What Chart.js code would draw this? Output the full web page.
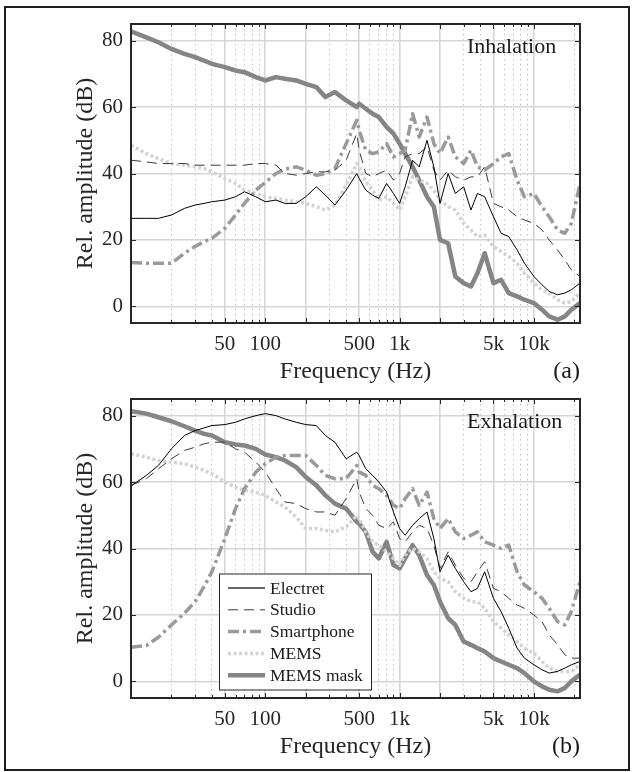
<!DOCTYPE html>
<html lang="en">
<head>
<meta charset="UTF-8" />
<title>Breath spectra: inhalation / exhalation</title>
<script src="https://cdn.jsdelivr.net/npm/chart.js@4.4.0/dist/chart.umd.min.js"></script>
<style>
  html, body { margin: 0; padding: 0; background: #fff; }
  #frame { position: absolute; left: 4px; top: 6px; width: 626px; height: 765px;
           border: 2px solid #1e1e1e; box-sizing: border-box; }
  .panel { position: absolute; left: 0; width: 633px; height: 390px; }
</style>
</head>
<body>
<div id="frame"></div>
<div class="panel" style="top:0"><canvas id="chartA" width="633" height="390"></canvas></div>
<div class="panel" style="top:375px"><canvas id="chartB" width="633" height="390"></canvas></div>

<script>
// frequency points (Hz) the curves were read at
const freqHz = [10, 13, 16, 20, 25, 30, 35, 40, 50, 60, 70, 85, 100, 120, 140, 170, 200, 240, 280, 330,
  400, 480, 500, 560, 630, 700, 800, 900, 1000, 1100, 1250, 1400, 1600, 1800, 2000, 2300, 2600, 3000,
  3400, 3800, 4300, 5000, 5700, 6500, 7500, 8500, 10000, 11500, 13000, 15000, 17000, 19000, 22050];

// (a) inhalation, dB
const inhElectret = [26.5, 26.5, 26.5, 27.5, 29.5, 30.5, 31, 31.5, 32, 33, 34.5, 33, 31.5, 32, 31, 31, 33, 36, 33.5, 30.5,
  35, 40, 38.5, 35, 33.5, 32.5, 37, 34, 31, 36, 44, 42, 50, 42, 31, 40, 34, 36,
  29, 34, 33, 27, 22, 21, 17, 13, 9, 6.5, 4.5, 3.5, 4, 5, 7];
const inhStudio = [44, 43.5, 43, 43, 43, 42.5, 42.5, 42.5, 42.5, 42.5, 42.5, 43, 43, 42.5, 40, 39.5, 40, 40.5, 40.5, 41,
  44, 52, 47, 40, 39, 40, 41, 38, 40, 45, 46, 46, 48, 41, 38, 41, 39, 38,
  39, 39, 42, 31, 30, 29, 27, 26, 25, 23, 20, 17, 14, 11, 9];
const inhSmartphone = [13.2, 13, 13, 13, 16, 18, 19.5, 20.5, 23.5, 27.5, 31, 35, 37.3, 40, 41.3, 42, 41, 39.5, 40, 41.5,
  49, 56, 53, 47, 46, 46.5, 49, 45, 46, 47, 58, 51, 57, 49, 46, 51, 45, 43,
  47, 42, 41, 43, 45, 46, 38, 33, 34, 30, 27, 23, 22, 25, 37];
const inhMems = [48.5, 46, 44.5, 43, 42.5, 42, 41.5, 40.5, 38.5, 37, 35, 34, 33, 32.5, 32, 31.5, 31, 30, 29, 30.5,
  36.5, 43, 42, 37.5, 35, 32, 33, 31, 29, 33, 39, 38, 37, 35, 32, 30, 29, 25,
  23, 21, 21.5, 18, 16.5, 15, 13, 10, 7, 5, 4, 2, 1, 1.5, 4];
const inhMemsMask = [82.8, 81, 79.5, 77.5, 76, 75, 74, 73, 72, 71, 70.5, 69, 68, 69, 68.5, 68, 67, 66, 63, 64.5,
  62, 60, 61, 59.5, 58, 57, 54, 52, 49, 46, 42, 38, 33, 30, 20, 19, 9, 7,
  6, 10, 16, 7, 8, 4, 3, 2, 1, -1, -3, -4, -3, -1, 1];

// (b) exhalation, dB
const exhElectret = [58.8, 62, 65, 70, 74, 75.5, 76.3, 77, 77.3, 78, 79, 80, 80.6, 80, 79, 78, 77.3, 77, 74, 72,
  67, 69, 68, 64, 62, 60, 57, 51, 46, 44, 47, 49, 51, 43, 33, 38, 34, 30,
  27, 28, 33, 25, 21, 16, 10, 7, 5, 3.5, 2.5, 3, 4, 5, 6];
const exhStudio = [59, 61, 64, 67, 69.5, 70.5, 71.5, 72, 72, 70, 69, 66, 63, 58, 54, 53.5, 52, 51, 51, 50,
  55, 61, 57, 52, 50, 47, 46, 48, 43, 42, 45, 47, 46, 41, 34, 39, 35, 31,
  30, 33, 36, 28, 27, 25, 23, 22, 20, 18, 14, 11, 8, 7, 7];
const exhSmartphone = [10.3, 10.8, 13.3, 17, 20.5, 24, 28.5, 33, 43, 52, 58, 63, 65.5, 67.5, 68, 68, 68, 65, 62, 61,
  61, 65, 63, 62, 59, 58, 56, 53, 52, 55, 58, 53, 57, 49, 46, 49, 45, 43,
  44, 45, 42, 41, 40, 41, 33, 29, 27, 25, 22, 18, 17, 21, 30];
const exhMems = [68.5, 67.5, 66.5, 66, 65.5, 64.5, 63.5, 62.5, 60, 58.5, 57.5, 57, 56, 54, 52.5, 49.5, 46, 46, 45.5, 45,
  46.5, 50, 49, 45, 42, 41, 39, 37, 35, 38, 40, 39, 37, 33, 31, 30, 27, 25,
  24, 24, 22, 18, 16, 14, 12, 10, 8.5, 6, 4, 3, 3, 3, 5];
const exhMemsMask = [81.3, 80.6, 79.5, 78.3, 76.8, 75.5, 74.5, 74, 72, 71.3, 71, 70, 68.3, 67.5, 66.5, 64.5, 61.5, 59, 56, 53.5,
  52, 48, 47.5, 45, 39, 37, 42, 35, 34, 37, 41, 38, 32, 29, 24, 19, 17, 12,
  11, 10, 9, 7, 6, 5, 4, 2.5, 0, -1.5, -2.5, -3, -2, 0, 2];

// axes
const gridFreqs = [20, 30, 40, 50, 60, 70, 80, 90, 100, 200, 300, 400, 500, 600, 700, 800, 900,
  1000, 2000, 3000, 4000, 5000, 6000, 7000, 8000, 9000, 10000, 20000];
const majorFreqs = [50, 100, 200, 500, 1000, 2000, 5000, 10000];
const freqLabels = { 50: '50', 100: '100', 500: '500', 1000: '1k', 5000: '5k', 10000: '10k' };
const dbTicks = [0, 20, 40, 60, 80];

const seriesNames = ['Electret', 'Studio', 'Smartphone', 'MEMS', 'MEMS mask'];
const seriesStyle = [
  { color: '#000000', width: 1, dash: [] },
  { color: '#3a3a3a', width: 1, dash: [10, 6] },
  { color: '#9a9a9a', width: 3.5, dash: [11, 4, 3, 4] },
  { color: '#d3d3d3', width: 3.5, dash: [3, 2.5] },
  { color: '#858585', width: 4.5, dash: [] }
];

const FONT = '"Liberation Serif", "DejaVu Serif", serif';
const INK = '#262626';

const isMajor = (c) => c.tick && majorFreqs.includes(c.tick.value);

// axes box, inward ticks, panel texts and (optionally) the legend
const panelDecor = {
  id: 'panelDecor',
  afterDatasetsDraw(chart, args, opts) {
    const { ctx, chartArea: a, scales: { x, y } } = chart;
    ctx.save();
    ctx.strokeStyle = INK;
    ctx.lineWidth = 1;
    ctx.beginPath();
    gridFreqs.forEach(f => {
      const px = Math.round(x.getPixelForValue(f)) + 0.5;
      const len = majorFreqs.includes(f) ? 5 : 3;
      ctx.moveTo(px, a.top); ctx.lineTo(px, a.top + len);
      ctx.moveTo(px, a.bottom); ctx.lineTo(px, a.bottom - len);
    });
    dbTicks.forEach(v => {
      const py = Math.round(y.getPixelForValue(v)) + 0.5;
      ctx.moveTo(a.left, py); ctx.lineTo(a.left + 5, py);
      ctx.moveTo(a.right, py); ctx.lineTo(a.right - 5, py);
    });
    ctx.stroke();
    ctx.lineWidth = 2;
    ctx.strokeRect(a.left, a.top, a.right - a.left, a.bottom - a.top);

    ctx.fillStyle = '#1a1a1a';
    ctx.font = '22px ' + FONT;
    ctx.textAlign = 'left';
    ctx.textBaseline = 'alphabetic';
    ctx.fillText(opts.label, a.left + 336, a.top + 28.5);

    ctx.font = '24px ' + FONT;
    ctx.textAlign = 'right';
    ctx.textBaseline = 'middle';
    ctx.fillText(opts.letter, a.right, a.bottom + 49);

    if (opts.legend) {
      const bx = a.left + 88, bw = 152, bh = 116, by = a.bottom - 8.5 - bh;
      ctx.fillStyle = '#fff';
      ctx.fillRect(bx, by, bw, bh);
      ctx.lineWidth = 1;
      ctx.strokeStyle = INK;
      ctx.strokeRect(bx + 0.5, by + 0.5, bw, bh);
      ctx.font = '17.5px ' + FONT;
      ctx.textAlign = 'left';
      seriesNames.forEach((name, i) => {
        const ry = by + 14.5 + i * 21.8;
        const st = seriesStyle[i];
        ctx.beginPath();
        ctx.strokeStyle = i === 0 ? '#333' : st.color;
        ctx.lineWidth = i === 0 ? 1.3 : st.width;
        ctx.setLineDash(st.dash);
        ctx.moveTo(bx + 9, ry); ctx.lineTo(bx + 46, ry);
        ctx.stroke();
        ctx.setLineDash([]);
        ctx.fillStyle = '#1a1a1a';
        ctx.fillText(name, bx + 51, ry + 1);
      });
    }
    ctx.restore();
  }
};

function makeChart(id, values, label, letter, legend) {
  const ctx = document.getElementById(id).getContext('2d');
  return new Chart(ctx, {
    type: 'line',
    data: {
      datasets: values.map((vals, i) => ({
        label: seriesNames[i],
        data: freqHz.map((f, k) => ({ x: f, y: vals[k] })),
        borderColor: seriesStyle[i].color,
        borderWidth: seriesStyle[i].width,
        borderDash: seriesStyle[i].dash,
        borderJoinStyle: 'round',
        pointRadius: 0,
        tension: 0,
        fill: false
      }))
    },
    options: {
      responsive: false,
      animation: false,
      events: [],
      layout: { padding: { left: 0, right: 53, top: 24, bottom: 0 } },
      plugins: {
        legend: { display: false },
        tooltip: { enabled: false },
        panelDecor: { label, letter, legend }
      },
      scales: {
        x: {
          type: 'logarithmic',
          min: 10,
          max: 22050,
          afterBuildTicks: (scale) => { scale.ticks = gridFreqs.map(v => ({ value: v })); },
          afterFit: (scale) => { scale.height = 67; },
          ticks: {
            autoSkip: false, maxRotation: 0, minRotation: 0, padding: 9, color: INK,
            font: { family: FONT, size: 21 },
            callback: (v) => freqLabels[v] || ''
          },
          grid: {
            drawTicks: false,
            color: (c) => isMajor(c) ? '#d6d6d6' : '#c2c2c2',
            lineWidth: (c) => isMajor(c) ? 1.6 : 1
          },
          border: { display: false, dash: (c) => (c.tick && !isMajor(c)) ? [1.5, 3.5] : [] },
          title: {
            display: true, text: 'Frequency (Hz)', color: INK,
            font: { family: FONT, size: 24 }, padding: { top: 0, bottom: 3.6 }
          }
        },
        y: {
          min: -5,
          max: 85,
          afterBuildTicks: (scale) => { scale.ticks = dbTicks.map(v => ({ value: v })); },
          afterFit: (scale) => { scale.width = 131; },
          ticks: { padding: 8, color: INK, font: { family: FONT, size: 21 } },
          grid: { drawTicks: false, color: '#d6d6d6', lineWidth: 1.6 },
          border: { display: false },
          title: {
            display: true, text: 'Rel. amplitude (dB)', color: INK,
            font: { family: FONT, size: 24 }, padding: { top: 71.6, bottom: 0 }
          }
        }
      }
    },
    plugins: [panelDecor]
  });
}

makeChart('chartA', [inhElectret, inhStudio, inhSmartphone, inhMems, inhMemsMask], 'Inhalation', '(a)', false);
makeChart('chartB', [exhElectret, exhStudio, exhSmartphone, exhMems, exhMemsMask], 'Exhalation', '(b)', true);
</script>
</body>
</html>
